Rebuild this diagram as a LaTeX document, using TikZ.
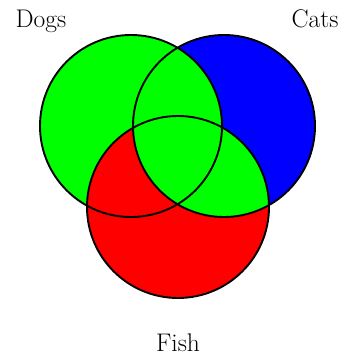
\documentclass[tikz,border=0pt]{standalone}
\usepackage{tikz}
\definecolor{DogGreen}{RGB}{0,255,0}
\definecolor{CatBlue}{RGB}{0,0,255}
\definecolor{FishRed}{RGB}{255,0,0}
\def\dogset{(131,126) circle (91pt)}
\def\catset{(224,126) circle (91pt)}
\def\fishset{(178,207) circle (91pt)}

\begin{document}
\begin{tikzpicture}[x=1pt,y=-1pt,
    set/.style={line width=1.9pt,draw=black},
    lbl/.style={anchor=base,font=\fontsize{25.5}{30}\selectfont}
  ]
    \useasboundingbox (0,0) rectangle (343,358);
    \fill[DogGreen] \dogset;
    \fill[FishRed] \fishset;
    \fill[CatBlue] \catset;
    \begin{scope}
      \clip \catset;
      \fill[DogGreen] \dogset \fishset;
    \end{scope}
    \foreach \s in {\dogset,\catset,\fishset}\draw[set] \s;
    \node[lbl] (dogs) at (41,28) {Dogs};
    \node[lbl] (cats) at (315,28) {Cats};
    \node[lbl] (fish) at (178,351) {Fish};
  \end{tikzpicture}
\end{document}
